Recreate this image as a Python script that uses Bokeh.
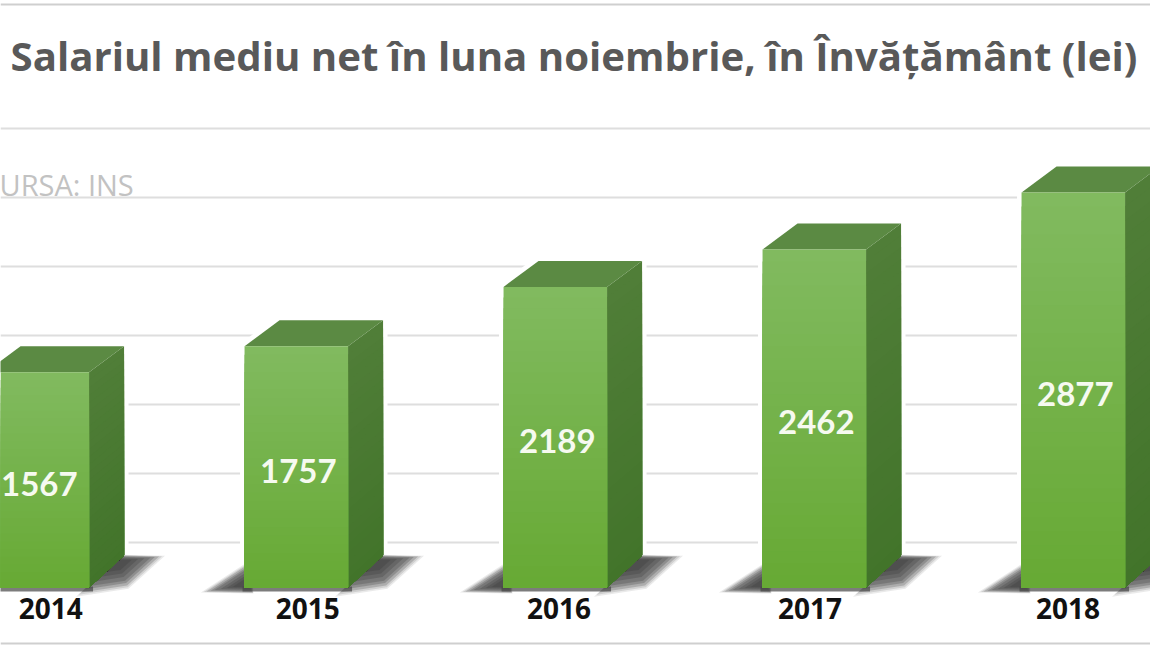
from bokeh.plotting import figure
from bokeh.embed import file_html
from bokeh.resources import INLINE
from bokeh.models import Range1d, FixedTicker, Label, Span
from bokeh.core.properties import value as fixed

# ---- data
years = [2014, 2015, 2016, 2017, 2018]
salaries = [1567, 1757, 2189, 2462, 2877]
year_labels = ["2014", "2015", "2016", "2017", "2018"]
label_positions = [2014.052, 2015.044, 2016.014, 2016.983, 2017.98]
grid_levels = [328, 830, 1333, 1835, 2338, 2840, 3343]
frame_levels = [-408, 4246]
title_text = "Salariul mediu net în luna noiembrie, în Învățământ (lei)"
source_text = "URSA: INS"

W, H = 1150, 647
PX_X = 259.0      # pixels per year
PX_Y = 0.13733    # pixels per leu
BAR = 103.5 / PX_X
DX = 35 / PX_X
DY_TOP = 26 / PX_Y
DY_BOT = 32 / PX_Y
x0 = 2015 - 295.8 / PX_X
y_top = 587 / PX_Y

p = figure(width=W, height=H, output_backend="svg", toolbar_location=None,
           x_range=Range1d(x0, x0 + W / PX_X),
           y_range=Range1d(y_top - H / PX_Y, y_top),
           min_border=0, outline_line_color=None, background_fill_color="white")
p.styles = {"position": "absolute", "left": "0px", "top": "0px"}

p.yaxis.visible = False
p.xgrid.visible = False
p.ygrid.ticker = FixedTicker(ticks=grid_levels)
p.ygrid.grid_line_color = "#dedede"
p.ygrid.grid_line_width = 2

for lv in frame_levels:
    p.add_layout(Span(location=lv, dimension="width", line_color="#cfcfcf", line_width=2))


def mix(a, b, t):
    ca = [int(a[i:i + 2], 16) for i in (1, 3, 5)]
    cb = [int(b[i:i + 2], 16) for i in (1, 3, 5)]
    return "#%02x%02x%02x" % tuple(round(u + (v - u) * t) for u, v in zip(ca, cb))


BANDS = 28
for yr, v in zip(years, salaries):
    L, R = yr - BAR / 2, yr + BAR / 2
    # white halo that interrupts the grid lines
    p.patch([L, R, R + DX, R + DX, L + DX, L],
            [0, 0, DY_BOT, v + DY_TOP, v + DY_TOP, v],
            fill_color="white", line_color="white", line_width=9)
    # soft floor shadows, dark along the bar and fading outwards
    shapes = [
        ([R - 8 / PX_X, R + DX - 4 / PX_X, R + 70 / PX_X, R + 38 / PX_X, R - 8 / PX_X],
         [-5 / PX_Y, DY_BOT, 31 / PX_Y, 2 / PX_Y, -5 / PX_Y],
         R + 28 / PX_X, 26 / PX_Y),
        ([L + 8 / PX_X, L + 2 / PX_X, L - 38 / PX_X, L + 8 / PX_X],
         [22 / PX_Y, 22 / PX_Y, -4 / PX_Y, -5 / PX_Y],
         L + 2 / PX_X, 3 / PX_Y),
    ]
    for xs, ys, ax_x, ax_y in shapes:
        for k, alpha in ((1.14, 0.10), (1.07, 0.14), (1.0, 0.22), (0.9, 0.25), (0.8, 0.25),
                         (0.65, 0.25), (0.5, 0.25), (0.35, 0.25)):
            p.patch([ax_x + (a - ax_x) * k for a in xs], [ax_y + (b - ax_y) * k for b in ys],
                    fill_color="#333333", fill_alpha=alpha, line_color=None)
    # dark contact line below the front face
    p.quad(left=[L - 2 / PX_X], right=[R + 4 / PX_X], bottom=[-4 / PX_Y], top=[1 / PX_Y],
           fill_color="#444444", fill_alpha=0.7, line_color=None)
    # side face, painted tall to short so the bands have no seams
    for i in range(BANDS):
        t = 1 - i / BANDS
        p.patch([R, R + DX, R + DX, R],
                [0, DY_BOT, DY_BOT + (v + DY_TOP - DY_BOT) * t, v * t],
                fill_color=mix("#42742a", "#507e38", t), line_color=None)
    # top face
    p.patch([L, R, R + DX, L + DX], [v, v, v + DY_TOP, v + DY_TOP],
            fill_color="#5b8a43", line_color=None)
    # front face
    for i in range(BANDS):
        t = 1 - i / BANDS
        p.vbar(x=[yr], bottom=[0], top=[v * t], width=BAR,
               fill_color=mix("#66a933", "#81ba5f", t), line_color=None)

p.text(x=years, y=[v / 2 for v in salaries], text=[str(v) for v in salaries],
       text_color="#f6faf0", text_font=fixed("Lato"), text_font_style="bold",
       text_font_size="33px", text_align="center", text_baseline="middle",
       x_offset=2, y_offset=4)

ax = p.xaxis[0]
ax.fixed_location = -3 / PX_Y
ax.ticker = FixedTicker(ticks=label_positions)
ax.major_label_overrides = dict(zip(label_positions, year_labels))
ax.major_label_text_font = "Open Sans"
ax.major_label_text_font_style = "bold"
ax.major_label_text_font_size = "28px"
ax.major_label_text_color = "#111111"
ax.major_label_standoff = 1
ax.axis_line_color = None
ax.major_tick_line_color = None
ax.minor_tick_line_color = None

p.add_layout(Label(x=10, y=H - 82, x_units="screen", y_units="screen", text=title_text,
                   text_font="Open Sans", text_font_style="bold", text_font_size="40.2px",
                   text_color="#595959"))
p.add_layout(Label(x=-1, y=H - 203, x_units="screen", y_units="screen", text=source_text,
                   text_font="Open Sans", text_font_size="29px", text_color="#c2c2c2"))

open("out.html", "w").write(file_html(p, INLINE))
